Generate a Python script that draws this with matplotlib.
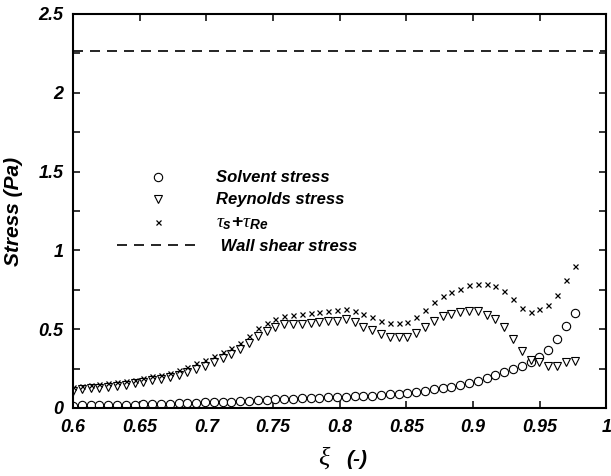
import matplotlib
matplotlib.use("Agg")
import matplotlib.pyplot as plt
from matplotlib.ticker import MultipleLocator, FuncFormatter
import numpy as np

plt.rcParams['font.family'] = ['Liberation Sans', 'DejaVu Sans']
plt.rcParams['mathtext.fontset'] = 'custom'
plt.rcParams['mathtext.it'] = 'Liberation Serif:italic'
plt.rcParams['mathtext.rm'] = 'Liberation Sans:bold'
plt.rcParams['mathtext.bf'] = 'Liberation Sans:bold'
plt.rcParams['mathtext.bfit'] = 'Liberation Sans:bold:italic'

# xi positions
xi = [0.6, 0.6066, 0.6132, 0.6198, 0.6264, 0.633, 0.6396, 0.6462, 0.6528, 0.6594,
      0.666, 0.6726, 0.6792, 0.6858, 0.6924, 0.699, 0.7056, 0.7122, 0.7188, 0.7254,
      0.732, 0.7386, 0.7452, 0.7518, 0.7584, 0.765, 0.7716, 0.7782, 0.7848, 0.7914,
      0.798, 0.8046, 0.8112, 0.8178, 0.8244, 0.831, 0.8376, 0.8442, 0.8508, 0.8574,
      0.864, 0.8706, 0.8772, 0.8838, 0.8904, 0.897, 0.9036, 0.9102, 0.9168, 0.9234,
      0.93, 0.9366, 0.9432, 0.9498, 0.9564, 0.963, 0.9696, 0.9762]

solvent = [0.015, 0.016, 0.017, 0.018, 0.019, 0.02, 0.021, 0.022, 0.024, 0.025,
           0.027, 0.028, 0.03, 0.031, 0.033, 0.035, 0.037, 0.039, 0.041, 0.044,
           0.046, 0.049, 0.051, 0.055, 0.057, 0.059, 0.061, 0.064, 0.066, 0.068,
           0.069, 0.072, 0.074, 0.076, 0.078, 0.083, 0.087, 0.091, 0.097, 0.104,
           0.11, 0.119, 0.125, 0.135, 0.144, 0.161, 0.174, 0.189, 0.21, 0.227,
           0.246, 0.267, 0.294, 0.326, 0.368, 0.436, 0.521, 0.605]

reynolds = [0.108, 0.119, 0.125, 0.129, 0.133, 0.14, 0.146, 0.157, 0.167, 0.178,
            0.186, 0.199, 0.212, 0.227, 0.248, 0.267, 0.294, 0.316, 0.343, 0.375,
            0.415, 0.457, 0.491, 0.517, 0.532, 0.532, 0.534, 0.538, 0.548, 0.553,
            0.555, 0.563, 0.544, 0.517, 0.496, 0.468, 0.449, 0.449, 0.453, 0.474,
            0.513, 0.555, 0.585, 0.597, 0.61, 0.618, 0.614, 0.59, 0.565, 0.517,
            0.438, 0.362, 0.305, 0.29, 0.267, 0.267, 0.29, 0.30]

total = [0.131, 0.14, 0.146, 0.152, 0.157, 0.163, 0.172, 0.18, 0.19, 0.201,
         0.21, 0.224, 0.239, 0.258, 0.284, 0.305, 0.33, 0.356, 0.381, 0.415,
         0.455, 0.506, 0.538, 0.565, 0.586, 0.593, 0.595, 0.601, 0.612, 0.616,
         0.623, 0.631, 0.616, 0.595, 0.576, 0.553, 0.538, 0.538, 0.548, 0.578,
         0.623, 0.671, 0.711, 0.733, 0.756, 0.781, 0.788, 0.786, 0.775, 0.745,
         0.69, 0.633, 0.61, 0.627, 0.654, 0.718, 0.809, 0.898]

wall_shear = 2.265

fig = plt.figure(figsize=(6.11, 4.76), dpi=100)
ax = fig.add_axes([0.1195, 0.1429, 0.873, 0.8277])

ax.plot(xi, solvent, 'o', ms=6, mfc='white', mec='black', mew=0.8,
        ls='none', label='Solvent stress')
ax.plot(xi, reynolds, 'v', ms=6.4, mfc='white', mec='black', mew=0.8,
        ls='none', label='Reynolds stress')
ax.plot(xi, total, 'x', ms=3.6, color='black', mew=0.9,
        ls='none', label=r'$\tau_{\mathbfit{s}}\mathbf{+}\tau_{\mathbfit{Re}}$')
ax.axhline(wall_shear, color='black', lw=1.2, dashes=[6, 4.2],
           label=' Wall shear stress')

ax.set_xlim(0.6, 1.0)
ax.set_ylim(0, 2.5)
ax.xaxis.set_major_locator(MultipleLocator(0.05))
ax.yaxis.set_major_locator(MultipleLocator(0.5))
ax.yaxis.set_minor_locator(MultipleLocator(0.25))
fmt = FuncFormatter(lambda v, p: '%g' % round(v, 3))
ax.xaxis.set_major_formatter(fmt)
ax.yaxis.set_major_formatter(fmt)
ax.tick_params(which='both', direction='in', top=True, right=True,
               length=5, width=1.1)
ax.tick_params(axis='x', which='major', pad=8)
ax.tick_params(axis='y', which='major', pad=7)
for lab in ax.get_xticklabels() + ax.get_yticklabels():
    lab.set_fontsize(13)
    lab.set_fontweight('bold')
    lab.set_fontstyle('italic')
for sp in ax.spines.values():
    sp.set_linewidth(1.5)

ax.set_ylabel('Stress (Pa)', fontsize=15, fontweight='bold', fontstyle='italic',
              labelpad=11)

# x label: large serif xi followed by bold italic "(-)"
fig.text(324 / 611, 1 - 465 / 476, 'ξ', fontsize=19, family='Liberation Serif',
         style='italic', ha='center', va='baseline')
fig.text(346 / 611, 1 - 465 / 476, '(-)', fontsize=15, fontweight='bold',
         style='italic', ha='left', va='baseline')

leg = ax.legend(loc='upper left', bbox_to_anchor=(0.083, 0.603), frameon=False,
                borderpad=0, borderaxespad=0, handlelength=4.9,
                handletextpad=1.0, labelspacing=0.42,
                prop={'size': 12, 'weight': 'bold', 'style': 'italic'})
leg.get_texts()[2].set_fontsize(14)

fig.savefig('out.png', dpi=100)
